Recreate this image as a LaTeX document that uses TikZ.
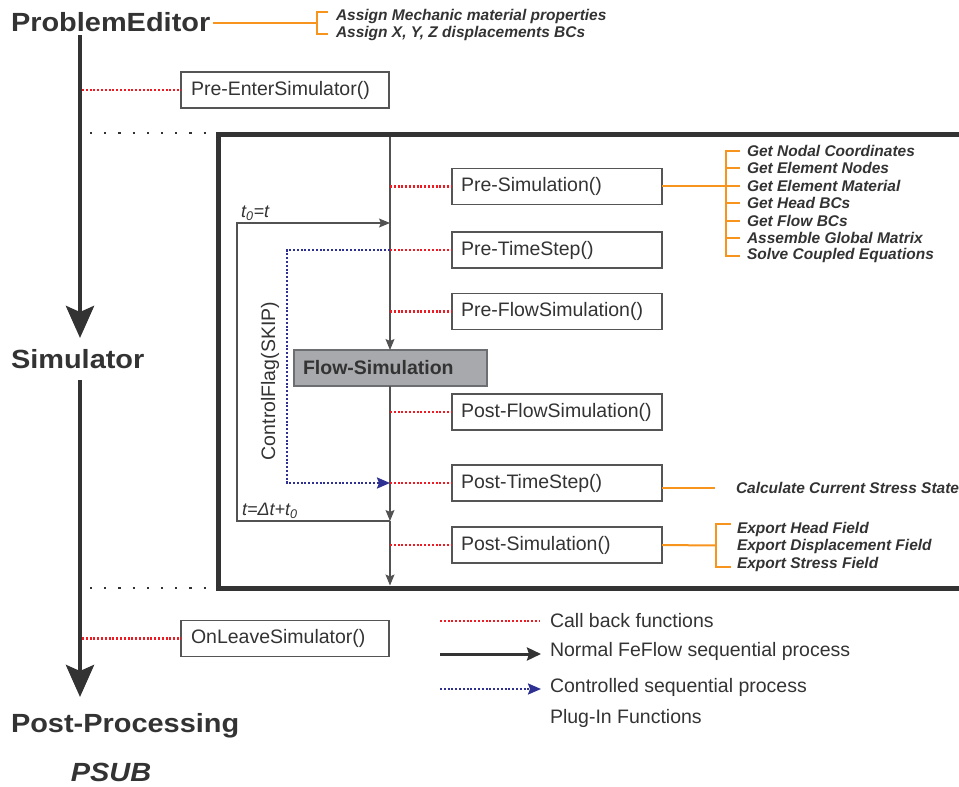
\documentclass[tikz,border=0pt]{standalone}
\usepackage{fontspec}
\setmainfont{Liberation Sans}
\newfontfamily\hdfont[FakeStretch=1.1]{Liberation Sans}
\usetikzlibrary{arrows.meta}
\definecolor{txt}{HTML}{333333}
\definecolor{orng}{HTML}{F7941D}
\definecolor{rdot}{HTML}{ED1C24}
\definecolor{bdot}{HTML}{2E3192}
\definecolor{fsfill}{HTML}{A7A9AC}
\definecolor{fsline}{HTML}{6D6E71}
\definecolor{boxln}{HTML}{555555}
\begin{document}
\begin{tikzpicture}[x=1pt,y=-1pt,
  every node/.style={text=txt, inner sep=0pt, outer sep=0pt},
  head/.style={font=\hdfont\fontsize{26.3}{28}\bfseries\selectfont, anchor=west},
  cbbox/.style={draw=boxln, line width=1.2pt, minimum height=36pt, text width=192pt,
     align=left, inner xsep=9pt, font=\fontsize{19.5}{22}\selectfont, anchor=west},
  sidebox/.style={cbbox, text width=188pt, inner xsep=10pt},
  otext/.style={font=\fontsize{15.5}{17}\bfseries\itshape\selectfont, anchor=west},
  ltext/.style={font=\fontsize{19.5}{22}\selectfont, anchor=west},
  olink/.style={draw=orng, line width=2pt},
  cback/.style={draw=rdot, line width=2.2pt, dash pattern=on 2pt off 1.8pt},
  ctrl/.style={draw=bdot, line width=2.2pt, dash pattern=on 2pt off 1.8pt},
  sep/.style={draw=txt, line width=2.2pt, dash pattern=on 2.2pt off 12pt},
  axis/.style={draw=txt, line width=4.5pt, -{Stealth[length=32pt,width=28pt,inset=6pt]}},
  seq/.style={draw=txt!85!white, line width=1.2pt, -{Stealth[length=11pt,width=9pt,inset=2pt]}},
]
\useasboundingbox (0,0) rectangle (959,787);

% headings
\node[head] (PE) at (11,22) {ProblemEditor};
\node[head] (SIM) at (11,359) {Simulator};
\node[head] (PP) at (11,726) {Post-Processing};
\node[font=\hdfont\fontsize{26.3}{28}\bfseries\itshape\selectfont] (PSUB) at (111,772) {PSUB};

% main axis
\coordinate (ax1) at (80,35);
\coordinate (ax2) at (80,338);
\coordinate (ax3) at (80,380);
\coordinate (ax4) at (80,697);
\draw[axis] (ax1) -- (ax2);
\draw[axis] (ax3) -- (ax4);

% ProblemEditor notes
\node[otext] (pe1) at (336,16) {Assign Mechanic material properties};
\node[otext] (pe2) at (336,33) {Assign X, Y, Z displacements BCs};
\coordinate (pebr) at (317,23);
\draw[olink] (PE.east |- pebr) ++(3,0) -- (pebr);
\draw[olink, line join=miter] (328,12) -- (317,12) -- (317,34) -- (328,34);

% Pre-EnterSimulator
\node[sidebox] (PES) at (181,90) {Pre-EnterSimulator()};
\coordinate (pesa) at (82,90);
\draw[cback] (pesa) -- (PES.west);

% separators
\coordinate (s1a) at (90,133); \coordinate (s1b) at (206,133);
\coordinate (s2a) at (90,588); \coordinate (s2b) at (206,588);
\draw[sep] (s1a) -- (s1b);
\draw[sep] (s2a) -- (s2b);

% simulator frame
\draw[txt, line width=5pt, line join=miter] (962,134.5) -- (218.5,134.5) -- (218.5,588) -- (962,588);

% callback boxes
\node[cbbox] (PRS) at (452,186.5) {Pre-Simulation()};
\node[cbbox] (PRT) at (452,250) {Pre-TimeStep()};
\node[cbbox] (PRF) at (452,311.5) {Pre-FlowSimulation()};
\node[cbbox] (POF) at (452,412) {Post-FlowSimulation()};
\node[cbbox] (POT) at (452,483) {Post-TimeStep()};
\node[cbbox] (POS) at (452,545) {Post-Simulation()};

% flow simulation
\node[draw=fsline, fill=fsfill, line width=1.2pt, minimum height=36pt, text width=175pt,
   inner xsep=9pt, align=left, anchor=west, font=\fontsize{19.5}{22}\bfseries\selectfont]
   (FS) at (294,368) {Flow-Simulation};

% sequential line
\coordinate (v0) at (390,137);
\coordinate (v1) at (390,521);
\coordinate (v2) at (390,585.5);
\draw[seq] (v0) -- (FS.north -| v0);
\draw[seq] (FS.south -| v0) -- (v1);
\draw[seq] (v1) -- (v2);

% time loop
\coordinate (lt) at (390,223);
\coordinate (lb) at (237,521);
\draw[seq] (v1) -- (lb) -- (lb |- lt) -- (lt);
\node[font=\fontsize{18}{20}\itshape\selectfont, anchor=west] (t0) at (241,213) {t\textsubscript{0}=t};
\node[font=\fontsize{18}{20}\itshape\selectfont, anchor=west] (tdt) at (242,511) {t=Δt+t\textsubscript{0}};

% control flag
\coordinate (ct) at (390,250);
\coordinate (cb) at (390,483);
\draw[ctrl, -{Stealth[length=13pt,width=11pt,inset=2pt,fill=bdot]}] (ct) -- (287,250) -- (287,483) -- (cb);
\node[rotate=90, font=\fontsize{19.5}{22}\selectfont] (cf) at (270,381) {ControlFlag(SKIP)};

% callback connectors
\draw[cback] (PRS.west -| v0) -- (PRS.west);
\draw[cback] (ct) -- (PRT.west);
\draw[cback] (PRF.west -| v0) -- (PRF.west);
\draw[cback] (POF.west -| v0) -- (POF.west);
\draw[cback] (cb) -- (POT.west);
\draw[cback] (POS.west -| v0) -- (POS.west);

% Pre-Simulation notes
\node[otext] (g1) at (747,150.5) {Get Nodal Coordinates};
\node[otext] (g2) at (747,168) {Get Element Nodes};
\node[otext] (g3) at (747,185.5) {Get Element Material};
\node[otext] (g4) at (747,203) {Get Head BCs};
\node[otext] (g5) at (747,220.5) {Get Flow BCs};
\node[otext] (g6) at (747,238) {Assemble Global Matrix};
\node[otext] (g7) at (747,255.5) {Solve Coupled Equations};
\coordinate (gb) at (726,185.5);
\draw[olink] (PRS.east |- gb) -- (gb);
\draw[olink, line join=miter] ([xshift=-7pt]g1.west) -- (gb |- g1.west) -- (gb |- g7.west) -- ([xshift=-7pt]g7.west);
\foreach \g in {g2,g3,g4,g5,g6} \draw[olink] (gb |- \g.west) -- ([xshift=-7pt]\g.west);

% Post-TimeStep note
\node[otext] (cs) at (736,488) {Calculate Current Stress State};
\coordinate (cse) at (715,488);
\draw[olink] (POT.east |- cse) -- (cse);

% Post-Simulation notes
\node[otext] (e1) at (737,529) {Export Head Field};
\node[otext] (e2) at (737,546.5) {Export Displacement Field};
\node[otext] (e3) at (737,564) {Export Stress Field};
\coordinate (eb) at (716,545.5);
\draw[olink] (POS.east) -- (eb);
\draw[olink, line join=miter] (731,524) -- (716,524) -- (716,567) -- (731,567);

% OnLeaveSimulator
\node[sidebox] (OLS) at (181,638.5) {OnLeaveSimulator()};
\coordinate (olsa) at (82,638.5);
\draw[cback] (olsa) -- (OLS.west);

% legend
\node[ltext] (L1) at (550,621) {Call back functions};
\node[ltext] (L2) at (550,651) {Normal FeFlow sequential process};
\node[ltext] (L3) at (550,687) {Controlled sequential process};
\node[ltext] (L4) at (550,718) {Plug-In Functions};
\coordinate (l1a) at (440,621); \coordinate (l1b) at (539,621);
\coordinate (l2a) at (440,654); \coordinate (l2b) at (541,654);
\coordinate (l3a) at (440,689); \coordinate (l3b) at (541,689);
\draw[cback] (l1a) -- (l1b);
\draw[draw=txt, line width=3pt, -{Stealth[length=14pt,width=13pt,inset=2pt]}] (l2a) -- (l2b);
\draw[ctrl, -{Stealth[length=13pt,width=11pt,inset=2pt,fill=bdot]}] (l3a) -- (l3b);
\end{tikzpicture}
\end{document}
